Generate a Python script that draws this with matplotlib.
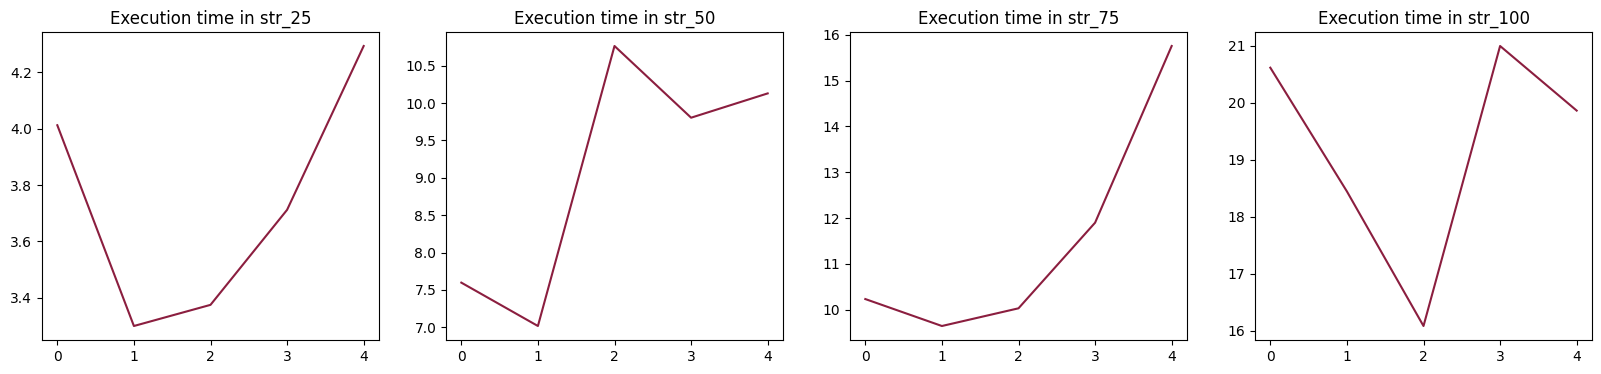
import matplotlib
matplotlib.use("Agg")
import matplotlib.pyplot as plt

runs = [0, 1, 2, 3, 4]
names = ["str_25", "str_50", "str_75", "str_100"]
str_25 = [4.012, 3.300, 3.375, 3.712, 4.293]
str_50 = [7.598, 7.018, 10.763, 9.804, 10.129]
str_75 = [10.232, 9.644, 10.03, 11.898, 15.753]
str_100 = [20.619, 18.445, 16.08, 21.0, 19.865]
times = [str_25, str_50, str_75, str_100]

fig = plt.figure(figsize=(16.01, 3.74), dpi=100)
lefts = [42, 446, 850, 1255]
for i in range(4):
    ax = fig.add_axes([lefts[i] / 1601, 34 / 374, 337 / 1601, 308 / 374])
    ax.plot(runs, times[i], color="#8b1e3f")
    ax.set_title("Execution time in " + names[i])

fig.savefig("out.png", dpi=100)
